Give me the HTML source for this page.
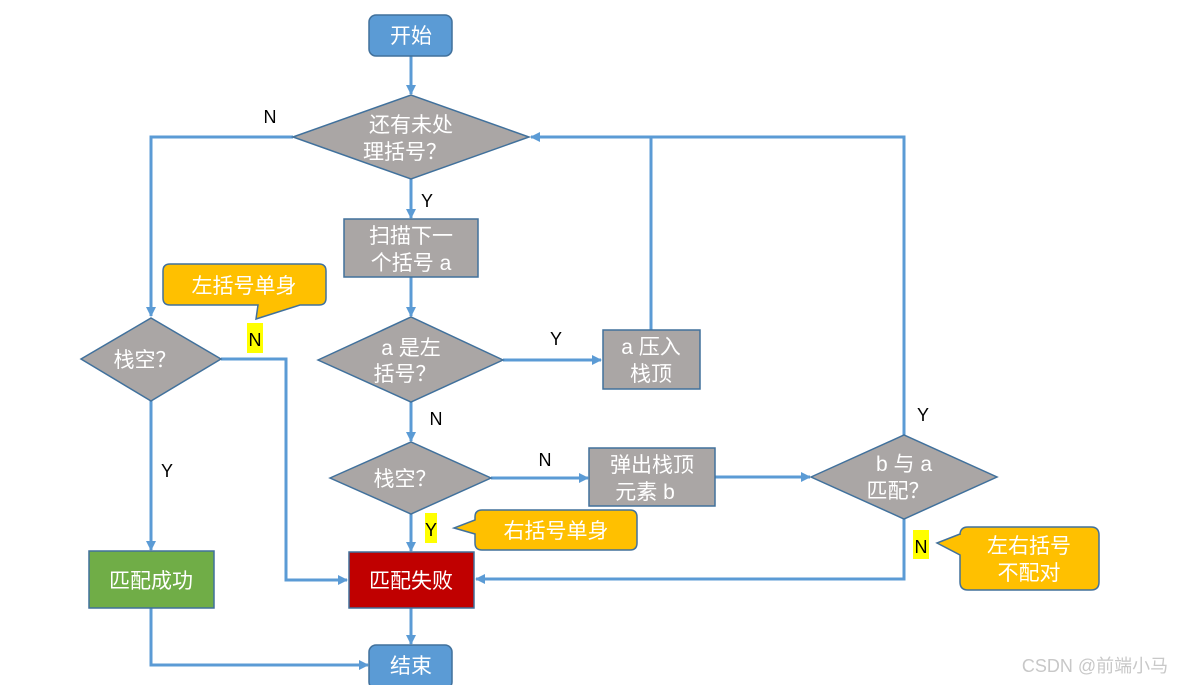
<!DOCTYPE html>
<html><head><meta charset="utf-8"><style>
html,body{margin:0;padding:0;background:#fff;}
svg{display:block;}
.t{font-family:"Liberation Sans","Noto Sans CJK SC",sans-serif;font-size:21px;fill:#fff;text-anchor:middle;}
.l{font-family:"Liberation Sans",sans-serif;font-size:18px;fill:#000;text-anchor:middle;}
.ln{stroke:#5b9bd5;stroke-width:3;fill:none;}
.g{fill:#aaa6a5;stroke:#41719c;stroke-width:1.5;}
</style></head><body>
<svg width="1187" height="685" viewBox="0 0 1187 685" xmlns="http://www.w3.org/2000/svg">
<defs><marker id="a" markerWidth="10" markerHeight="10" refX="9" refY="5" orient="auto" markerUnits="userSpaceOnUse"><path d="M0,0 L10,5 L0,10 z" fill="#5b9bd5"/></marker></defs>
<!-- connectors -->
<path class="ln" d="M411,56 V94" marker-end="url(#a)"/>
<path class="ln" d="M411,179 V218" marker-end="url(#a)"/>
<path class="ln" d="M411,277 V316" marker-end="url(#a)"/>
<path class="ln" d="M411,402 V441" marker-end="url(#a)"/>
<path class="ln" d="M411,514 V551" marker-end="url(#a)"/>
<path class="ln" d="M411,608 V644" marker-end="url(#a)"/>
<path class="ln" d="M503,360 H601" marker-end="url(#a)"/>
<path class="ln" d="M491,478 H588" marker-end="url(#a)"/>
<path class="ln" d="M715,477 H810" marker-end="url(#a)"/>
<path class="ln" d="M651,330 V137 H531" marker-end="url(#a)"/>
<path class="ln" d="M904,435 V137 H651"/>
<path class="ln" d="M904,519 V579 H476" marker-end="url(#a)"/>
<path class="ln" d="M293,137 H151 V316" marker-end="url(#a)"/>
<path class="ln" d="M221,359 H286 V580 H347" marker-end="url(#a)"/>
<path class="ln" d="M151,401 V550" marker-end="url(#a)"/>
<path class="ln" d="M151,608 V665 H368" marker-end="url(#a)"/>
<!-- shapes -->
<rect x="369" y="15" width="83" height="41" rx="7" fill="#5b9bd5" stroke="#41719c" stroke-width="1.5"/>
<text class="t" x="411" y="43">开始</text>
<polygon class="g" points="293,137 411,95 529,137 411,179"/>
<text class="t" x="411" y="132">还有未处</text><text class="t" x="405" y="159">理括号？</text>
<rect class="g" x="344" y="219" width="134" height="58"/>
<text class="t" x="411" y="243">扫描下一</text><text class="t" x="411" y="270">个括号 a</text>
<polygon class="g" points="318,360 411,317 503,360 411,402"/>
<text class="t" x="411" y="355">a 是左</text><text class="t" x="405" y="381">括号？</text>
<rect class="g" x="603" y="330" width="97" height="59"/>
<text class="t" x="651" y="354">a 压入</text><text class="t" x="651" y="381">栈顶</text>
<polygon class="g" points="330,478 411,442 491,478 411,514"/>
<text class="t" x="405" y="486">栈空？</text>
<rect class="g" x="589" y="448" width="126" height="58"/>
<text class="t" x="652" y="472">弹出栈顶</text><text class="t" x="645" y="499">元素 b</text>
<polygon class="g" points="811,477 904,435 997,477 904,519"/>
<text class="t" x="904" y="471">b 与 a</text><text class="t" x="898" y="498">匹配？</text>
<polygon class="g" points="81,359 151,318 221,359 151,401"/>
<text class="t" x="145" y="367">栈空？</text>
<rect x="349" y="552" width="125" height="56" fill="#c00000" stroke="#41719c" stroke-width="1.5"/>
<text class="t" x="411" y="588">匹配失败</text>
<rect x="89" y="551" width="125" height="57" fill="#70ad47" stroke="#41719c" stroke-width="1.5"/>
<text class="t" x="151" y="588">匹配成功</text>
<rect x="369" y="645" width="83" height="44" rx="7" fill="#5b9bd5" stroke="#41719c" stroke-width="1.5"/>
<text class="t" x="411" y="673">结束</text>
<!-- callouts -->
<path d="M170,264 H319 Q326,264 326,271 V298 Q326,305 319,305 H300 L256,319 L258,305 H170 Q163,305 163,298 V271 Q163,264 170,264 Z" fill="#ffc000" stroke="#41719c" stroke-width="1.5"/>
<text class="t" x="244" y="293">左括号单身</text>
<path d="M482,510 H630 Q637,510 637,517 V543 Q637,550 630,550 H482 Q475,550 475,543 V534 L454,528 L475,520 V517 Q475,510 482,510 Z" fill="#ffc000" stroke="#41719c" stroke-width="1.5"/>
<text class="t" x="556" y="538">右括号单身</text>
<path d="M968,527 H1091 Q1099,527 1099,535 V582 Q1099,590 1091,590 H968 Q960,590 960,582 V555 L937,543 L960,534 V535 Q960,527 968,527 Z" fill="#ffc000" stroke="#41719c" stroke-width="1.5"/>
<text class="t" x="1029" y="553">左右括号</text><text class="t" x="1029" y="580">不配对</text>
<!-- labels -->
<text class="l" x="270" y="123">N</text>
<text class="l" x="427" y="207">Y</text>
<text class="l" x="556" y="345">Y</text>
<text class="l" x="436" y="425">N</text>
<text class="l" x="545" y="466">N</text>
<text class="l" x="167" y="477">Y</text>
<text class="l" x="923" y="421">Y</text>
<rect x="247" y="323" width="16" height="30" fill="#ffff00"/>
<text class="l" x="255" y="346">N</text>
<rect x="425" y="513" width="12" height="30" fill="#ffff00"/>
<text class="l" x="431" y="536">Y</text>
<rect x="913" y="530" width="16" height="29" fill="#ffff00"/>
<text class="l" x="921" y="553">N</text>
<text x="1095" y="672" style="font-family:'Liberation Sans','Noto Sans CJK SC',sans-serif;font-size:18px;fill:#c8c8c8;text-anchor:middle;">CSDN @前端小马</text>
</svg>
</body></html>
